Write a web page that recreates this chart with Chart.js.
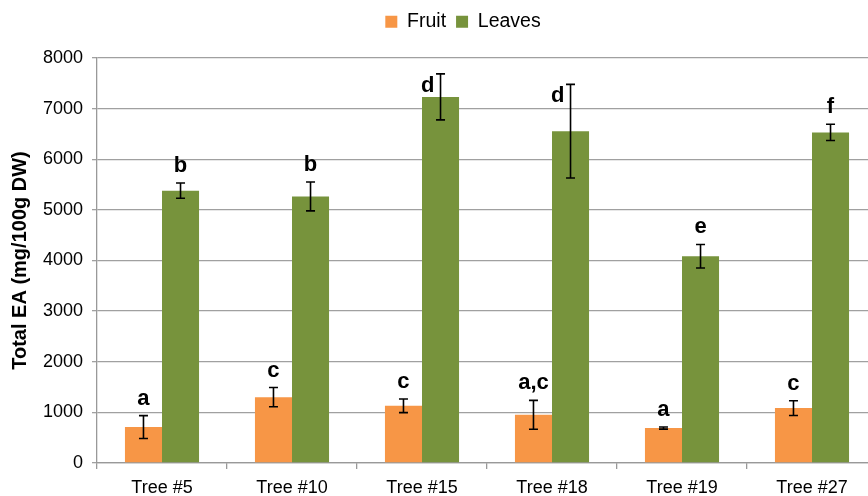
<!DOCTYPE html>
<html>
<head>
<meta charset="utf-8">
<script src="https://cdn.jsdelivr.net/npm/chart.js@4"></script>
<style>
  html, body { margin: 0; padding: 0; background: #fff; overflow: hidden; }
  #wrap { width: 926px; height: 496px; position: relative; }
</style>
</head>
<body>
<div id="wrap"><canvas id="c" width="926" height="496"></canvas></div>
<script>
const categories = ['Tree #5', 'Tree #10', 'Tree #15', 'Tree #18', 'Tree #19', 'Tree #27'];
const fruitValues = [710, 1300, 1130, 952, 690, 1084];
const fruitErrors = [225, 190, 135, 285, 20, 145];
const fruitLetters = ['a', 'c', 'c', 'a,c', 'a', 'c'];
const leavesValues = [5380, 5265, 7232, 6555, 4085, 6530];
const leavesErrors = [150, 285, 455, 925, 232, 160];
const leavesLetters = ['b', 'b', 'd', 'd', 'e', 'f'];
const yTicks = [0, 1000, 2000, 3000, 4000, 5000, 6000, 7000, 8000];

const FONT = '"Liberation Sans", Arial, sans-serif';

const legendSpacer = {
  id: 'legendSpacer',
  beforeInit(chart) {
    const fit = chart.legend.fit;
    chart.legend.fit = function () {
      fit.bind(chart.legend)();
      this.height += 16.5;
    };
  },
  afterLayout(chart, args, opts) {
    const lg = chart.legend;
    const d = opts.center - (lg.left + lg.right) / 2;
    lg.left += d;
    lg.right += d;
  }
};

const errorBarPlugin = {
  id: 'errorBars',
  afterDatasetsDraw(chart, args, opts) {
    const ctx = chart.ctx;
    const yScale = chart.scales.y;
    chart.data.datasets.forEach((ds, di) => {
      const meta = chart.getDatasetMeta(di);
      meta.data.forEach((bar, i) => {
        const v = ds.data[i];
        const e = ds.errors[i];
        const x = bar.x;
        const yt = yScale.getPixelForValue(v + e);
        const yb = yScale.getPixelForValue(v - e);
        ctx.save();
        ctx.strokeStyle = '#000';
        ctx.lineWidth = 1.6;
        ctx.beginPath();
        ctx.moveTo(x, yt); ctx.lineTo(x, yb);
        ctx.moveTo(x - 4.5, yt); ctx.lineTo(x + 4.5, yt);
        ctx.moveTo(x - 4.5, yb); ctx.lineTo(x + 4.5, yb);
        ctx.stroke();
        const letter = ds.letters[i];
        const shift = (opts.side && opts.side[di] && opts.side[di][i]) || 0;
        ctx.font = 'bold 22px ' + FONT;
        ctx.fillStyle = '#000';
        ctx.textBaseline = 'alphabetic';
        if (shift) {
          ctx.textAlign = 'right';
          ctx.fillText(letter, x - 6, yt + 18);
        } else {
          ctx.textAlign = 'center';
          ctx.fillText(letter, x, yt - 11);
        }
        ctx.restore();
      });
    });
  }
};

new Chart(document.getElementById('c'), {
  type: 'bar',
  data: {
    labels: categories,
    datasets: [
      { label: 'Fruit', data: fruitValues, errors: fruitErrors, letters: fruitLetters,
        backgroundColor: '#F79646', borderWidth: 0 },
      { label: 'Leaves', data: leavesValues, errors: leavesErrors, letters: leavesLetters,
        backgroundColor: '#77933C', borderWidth: 0 }
    ]
  },
  options: {
    responsive: false,
    animation: false,
    devicePixelRatio: 1,
    layout: { padding: { top: 2, right: 49, left: 0, bottom: 0 } },
    datasets: { bar: { barPercentage: 1.0, categoryPercentage: 0.57 } },
    plugins: {
      legend: {
        position: 'top',
        labels: {
          font: { family: FONT, size: 19.5 },
          color: '#000',
          boxWidth: 12, boxHeight: 12,
          padding: 10
        }
      },
      tooltip: { enabled: false },
      legendSpacer: { center: 463 },
      errorBars: { side: [[0,0,0,0,0,0],[0,0,1,1,0,0]] }
    },
    scales: {
      x: {
        afterFit(scale) { scale.height = 33; },
        grid: { display: true, drawOnChartArea: false, drawTicks: true, tickLength: 6,
                color: '#999', lineWidth: 1.3, offset: true },
        border: { display: true, color: '#999', width: 1.3 },
        ticks: { font: { family: FONT, size: 18 }, color: '#000', padding: 8 }
      },
      y: {
        min: 0, max: 8000,
        afterFit(scale) { scale.width = 97; },
        afterBuildTicks(scale) { scale.ticks = yTicks.map(v => ({ value: v })); },
        grid: { color: '#a0a0a0', lineWidth: 1.3, drawTicks: true, tickLength: 5 },
        border: { display: true, color: '#999', width: 1.3 },
        ticks: { font: { family: FONT, size: 18 }, color: '#000', padding: 9,
                 callback: (v) => String(v) },
        title: { display: true, text: 'Total EA (mg/100g DW)',
                 font: { family: FONT, size: 20, weight: 'bold' }, color: '#000',
                 padding: { top: 8, bottom: 0 } }
      }
    }
  },
  plugins: [errorBarPlugin, legendSpacer]
});
</script>
</body>
</html>
